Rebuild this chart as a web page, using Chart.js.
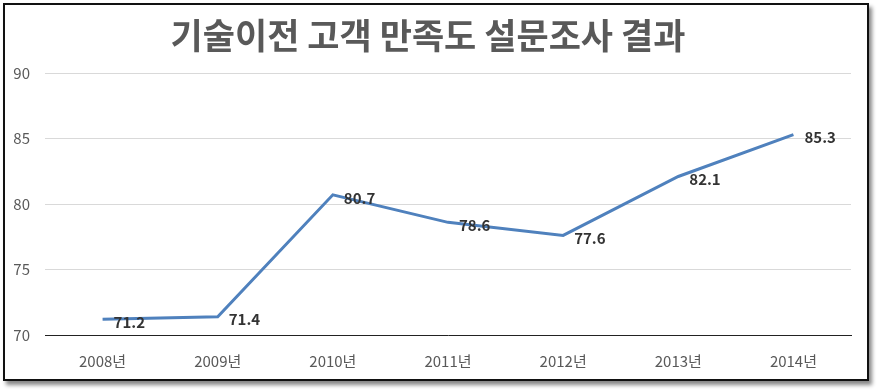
<!DOCTYPE html>
<html>
<head>
<meta charset="utf-8">
<script src="https://cdn.jsdelivr.net/npm/chart.js@4"></script>
<style>
  body { margin: 0; background: #fff; }
  #frame {
    position: absolute; left: 3px; top: 3px; width: 862px; height: 374px;
    border: 2px solid #111; box-shadow: 3px 4px 4px #888; background: #fff;
  }
</style>
</head>
<body>
<div id="frame"><canvas id="chart" width="862" height="374"></canvas></div>
<script>
// Survey results by year
const years = ['2008년', '2009년', '2010년', '2011년', '2012년', '2013년', '2014년'];
const scores = [71.2, 71.4, 80.7, 78.6, 77.6, 82.1, 85.3];
const yTicks = [70, 75, 80, 85, 90];

const FONT = "'Noto Sans CJK KR', 'Noto Sans', sans-serif";

// draws the value next to each point, right side like Excel
const valueLabels = {
  id: 'valueLabels',
  afterDatasetsDraw(chart) {
    const ctx = chart.ctx;
    const meta = chart.getDatasetMeta(0);
    ctx.save();
    ctx.font = 'bold 15px ' + FONT;
    ctx.fillStyle = '#333';
    ctx.textBaseline = 'middle';
    ctx.textAlign = 'left';
    meta.data.forEach((pt, i) => {
      ctx.fillText(scores[i].toFixed(1), pt.x + 11, pt.y + 3);
    });
    ctx.restore();
  }
};

new Chart(document.getElementById('chart'), {
  type: 'line',
  data: {
    labels: years,
    datasets: [{
      data: scores,
      borderColor: '#4f81bd',
      borderWidth: 3,
      pointRadius: 0,
      tension: 0
    }]
  },
  options: {
    responsive: false,
    animation: false,
    layout: { padding: { left: 0, right: 16, top: 0, bottom: 0 } },
    plugins: {
      legend: { display: false },
      tooltip: { enabled: false },
      title: {
        display: true,
        text: '기술이전 고객 만족도 설문조사 결과',
        color: '#595959',
        font: { family: FONT, size: 35, weight: 'bold' },
        padding: { top: 10, bottom: 16 }
      }
    },
    scales: {
      x: {
        offset: true,
        grid: { display: false },
        border: { color: '#222', width: 1 },
        ticks: { color: '#595959', font: { family: FONT, size: 15 }, padding: 9 }
      },
      y: {
        min: 70,
        max: 90,
        afterBuildTicks(axis) { axis.ticks = yTicks.map(v => ({ value: v })); },
        afterFit(axis) { axis.width = 40; },
        grid: { color: '#d9d9d9', drawTicks: false },
        border: { display: false },
        ticks: { color: '#595959', font: { family: FONT, size: 15 }, padding: 15 }
      }
    }
  },
  plugins: [valueLabels]
});
</script>
</body>
</html>
